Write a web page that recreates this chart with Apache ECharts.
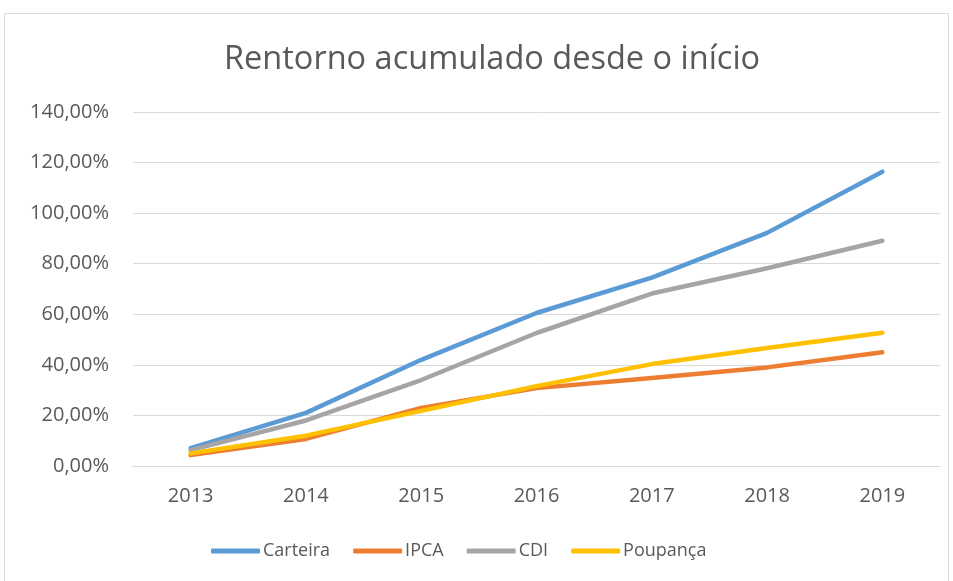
<!DOCTYPE html>
<html>
<head>
<meta charset="utf-8">
<script src="https://cdn.jsdelivr.net/npm/echarts@6/dist/echarts.min.js"></script>
<style>
  html, body { margin: 0; padding: 0; background: #fff; }
  #chart { width: 953px; height: 581px; }
</style>
</head>
<body>
<div id="chart"></div>
<script>
// Retorno acumulado (em %) por ano
var years = ['2013', '2014', '2015', '2016', '2017', '2018', '2019'];
var carteira = [7.1, 21.0, 42.0, 60.5, 74.5, 92.2, 116.4];
var ipca = [4.3, 10.7, 23.0, 30.8, 34.8, 39.0, 45.0];
var cdi = [6.3, 18.0, 34.0, 52.6, 68.2, 78.2, 89.1];
var poupanca = [5.0, 12.0, 21.8, 31.6, 40.3, 46.7, 52.7];

var textColor = '#595959';
var fontFamily = '"Open Sans", sans-serif';

function fmtPct(v) {
  return v.toFixed(2).replace('.', ',') + '%';
}

function lineSeries(name, data, color) {
  return {
    name: name,
    type: 'line',
    data: data,
    symbol: 'none',
    smooth: false,
    lineStyle: { color: color, width: 4.5, cap: 'round', join: 'round' },
    itemStyle: { color: color }
  };
}

var myChart = echarts.init(document.getElementById('chart'));

myChart.setOption({
  animation: false,
  textStyle: { fontFamily: fontFamily },
  title: {
    text: 'Rentorno acumulado desde o início',
    left: 219,
    top: 38,
    textStyle: { color: textColor, fontSize: 32.5, fontWeight: 'normal', fontFamily: fontFamily }
  },
  graphic: [
    {
      type: 'rect',
      shape: { x: 4.5, y: 13.5, width: 944, height: 580 },
      style: { fill: 'none', stroke: '#d9d9d9', lineWidth: 1 },
      silent: true
    }
  ],
  legend: {
    bottom: 16,
    left: 206,
    icon: 'roundRect',
    itemWidth: 49,
    itemHeight: 5,
    itemGap: 23,
    textStyle: { color: textColor, fontSize: 18, fontFamily: fontFamily, padding: [0, 0, 0, -2] },
    data: ['Carteira', 'IPCA', 'CDI', 'Poupança']
  },
  grid: { left: 133, right: 13, top: 112, bottom: 115 },
  xAxis: {
    type: 'category',
    data: years,
    boundaryGap: true,
    axisLine: { lineStyle: { color: '#d9d9d9', width: 1 } },
    axisTick: { show: false },
    axisLabel: { color: textColor, fontSize: 20, margin: 20, fontFamily: fontFamily }
  },
  yAxis: {
    type: 'value',
    min: 0,
    max: 140,
    interval: 20,
    axisLine: { show: false },
    axisTick: { show: false },
    splitLine: { lineStyle: { color: '#d9d9d9', width: 1 } },
    axisLabel: { color: textColor, fontSize: 20, margin: 24, fontFamily: fontFamily, formatter: fmtPct }
  },
  series: [
    lineSeries('Carteira', carteira, '#5B9BD5'),
    lineSeries('IPCA', ipca, '#ED7D31'),
    lineSeries('CDI', cdi, '#A5A5A5'),
    lineSeries('Poupança', poupanca, '#FFC000')
  ]
});
</script>
</body>
</html>
